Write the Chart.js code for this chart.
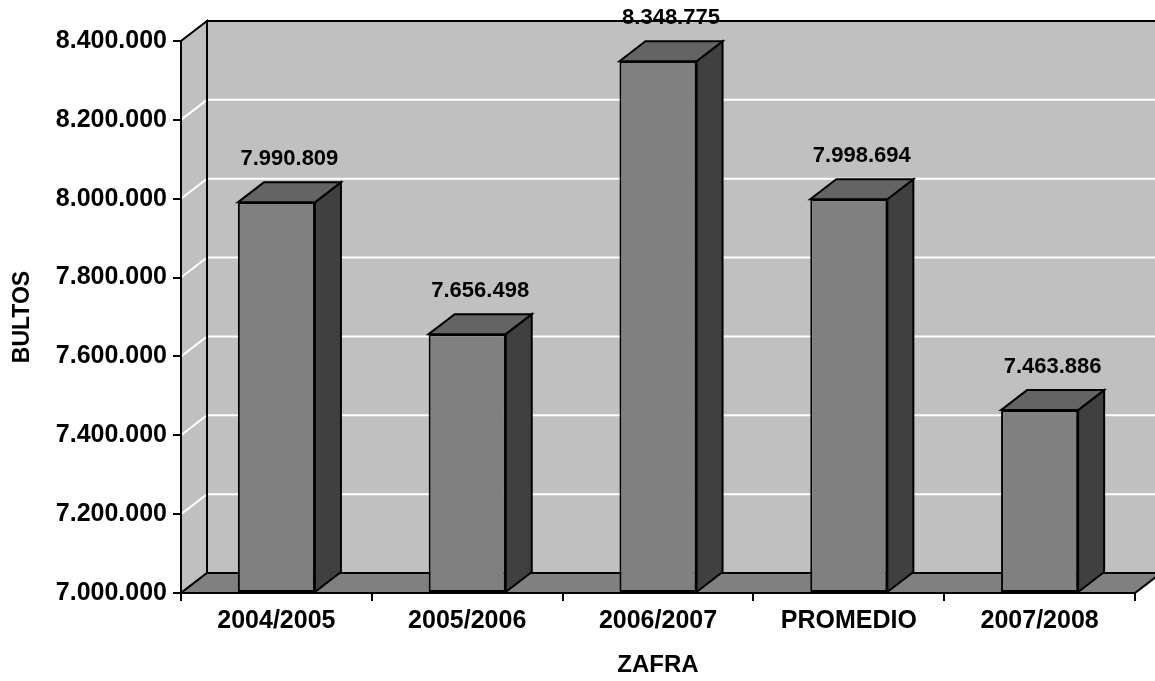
<!DOCTYPE html>
<html>
<head>
<meta charset="utf-8">
<script src="https://cdn.jsdelivr.net/npm/chart.js@4"></script>
<style>
  body { margin: 0; background: #fff; }
  #wrap { width: 1155px; height: 681px; }
</style>
</head>
<body>
<div id="wrap"><canvas id="chart" width="1155" height="681"></canvas></div>
<script>
const zafras = ['2004/2005', '2005/2006', '2006/2007', 'PROMEDIO', '2007/2008']
const bultos = [7990809, 7656498, 8348775, 7998694, 7463886]
const yMin = 7000000
const yMax = 8400000
const yStep = 200000

// depth of the 3d box (pixels back and up)
const DX = 26
const DY = -20

const fmt = v => String(v).replace(/\B(?=(\d{3})+(?!\d))/g, '.')

function poly(ctx, pts, fill, stroke, lw) {
  ctx.beginPath()
  ctx.moveTo(pts[0][0], pts[0][1])
  for (let i = 1; i < pts.length; i++) ctx.lineTo(pts[i][0], pts[i][1])
  ctx.closePath()
  if (fill) { ctx.fillStyle = fill; ctx.fill() }
  if (stroke) { ctx.strokeStyle = stroke; ctx.lineWidth = lw || 2; ctx.stroke() }
}

const walls = {
  id: 'walls',
  beforeDraw(chart) {
    const ctx = chart.ctx
    const a = chart.chartArea
    const y = chart.scales.y
    ctx.save()
    // back wall
    poly(ctx, [[a.left + DX, a.top + DY], [a.right + DX, a.top + DY], [a.right + DX, a.bottom + DY], [a.left + DX, a.bottom + DY]], '#c0c0c0')
    // side wall
    poly(ctx, [[a.left, a.bottom], [a.left, a.top], [a.left + DX, a.top + DY], [a.left + DX, a.bottom + DY]], '#c0c0c0', '#000', 2)
    // gridlines
    ctx.strokeStyle = '#fff'
    ctx.lineWidth = 2
    for (let v = yMin + yStep; v < yMax; v += yStep) {
      const py = y.getPixelForValue(v)
      ctx.beginPath()
      ctx.moveTo(a.left, py)
      ctx.lineTo(a.left + DX, py + DY)
      ctx.lineTo(a.right + DX + 10, py + DY)
      ctx.stroke()
    }
    // wall edges
    ctx.strokeStyle = '#000'
    ctx.beginPath()
    ctx.moveTo(a.left + DX, a.bottom + DY)
    ctx.lineTo(a.left + DX, a.top + DY)
    ctx.lineTo(a.right + DX + 10, a.top + DY)
    ctx.stroke()
    // floor
    poly(ctx, [[a.left, a.bottom], [a.right, a.bottom], [a.right + DX, a.bottom + DY], [a.left + DX, a.bottom + DY]], '#808080', '#000', 2)
    ctx.restore()
  },
  beforeDatasetsDraw(chart) {
    const ctx = chart.ctx
    ctx.save()
    chart.getDatasetMeta(0).data.forEach(bar => {
      const l = bar.x - bar.width / 2
      const r = bar.x + bar.width / 2
      const t = bar.y
      const b = bar.base
      poly(ctx, [[r, t], [r + DX, t + DY], [r + DX, b + DY], [r, b]], '#404040', '#000', 2)
      poly(ctx, [[l, t], [l + DX, t + DY], [r + DX, t + DY], [r, t]], '#646464', '#000', 2)
    })
    ctx.restore()
  },
  afterDatasetsDraw(chart) {
    const ctx = chart.ctx
    ctx.save()
    ctx.font = 'bold 22px Arial, "Liberation Sans", sans-serif'
    ctx.fillStyle = '#000'
    ctx.textAlign = 'center'
    ctx.textBaseline = 'middle'
    chart.getDatasetMeta(0).data.forEach((bar, i) => {
      ctx.fillText(fmt(bultos[i]), bar.x + DX / 2, bar.y - 43)
    })
    ctx.restore()
  }
}

Chart.defaults.font.family = 'Arial, "Liberation Sans", sans-serif'
Chart.defaults.color = '#000'

new Chart(document.getElementById('chart'), {
  type: 'bar',
  data: {
    labels: zafras,
    datasets: [{
      data: bultos,
      base: yMin,
      backgroundColor: '#808080',
      borderColor: '#000',
      borderWidth: 2,
      borderSkipped: false,
      barPercentage: 0.404,
      categoryPercentage: 1
    }]
  },
  options: {
    responsive: false,
    animation: false,
    layout: { padding: { top: 41, right: 20, left: 0, bottom: 0 } },
    plugins: {
      legend: { display: false },
      tooltip: { enabled: false }
    },
    scales: {
      x: {
        afterFit: s => { s.height = 88 },
        grid: { offset: true, drawOnChartArea: false, drawTicks: true, tickLength: 8, color: '#000', lineWidth: 2 },
        border: { display: true, color: '#000', width: 2 },
        ticks: { padding: 5, font: { size: 25, weight: 'bold' }, maxRotation: 0 },
        title: { display: true, text: 'ZAFRA', font: { size: 24, weight: 'bold' }, padding: { top: 0, bottom: 1 } }
      },
      y: {
        min: yMin,
        max: yMax,
        afterFit: s => { s.width = 181 },
        grid: { drawOnChartArea: false, drawTicks: true, tickLength: 8, color: '#000', lineWidth: 2 },
        border: { display: true, color: '#000', width: 2 },
        ticks: { stepSize: yStep, padding: 6, font: { size: 25, weight: 'bold' }, callback: v => fmt(v) },
        title: { display: true, text: 'BULTOS', font: { size: 23, weight: 'bold' }, padding: { top: 9, bottom: 0 } }
      }
    }
  },
  plugins: [walls]
})
</script>
</body>
</html>
